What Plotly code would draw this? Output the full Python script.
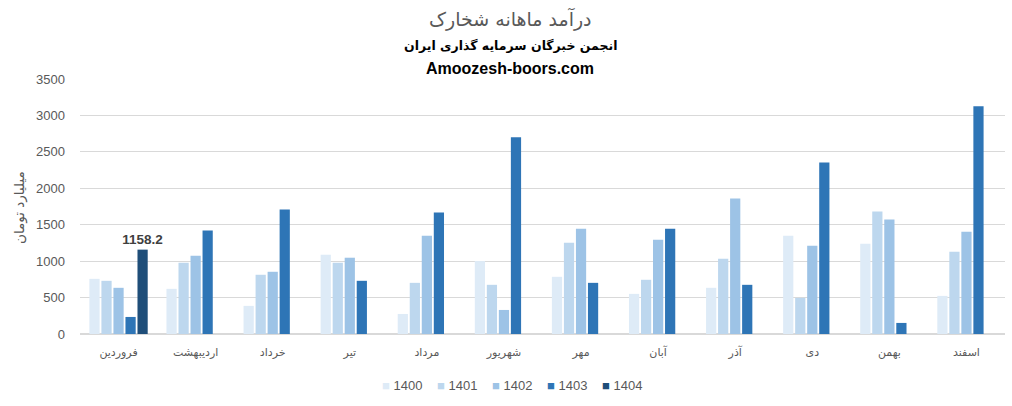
import plotly.graph_objects as go

months = ["فروردین", "اردیبهشت", "خرداد", "تیر", "مرداد", "شهریور",
          "مهر", "آبان", "آذر", "دی", "بهمن", "اسفند"]
years = ["1400", "1401", "1402", "1403", "1404"]
v1400 = [757, 620, 386, 1088, 275, 1001, 785, 551, 634, 1350, 1240, 523]
v1401 = [730, 978, 813, 978, 702, 675, 1253, 744, 1033, 496, 1681, 1129]
v1402 = [634, 1074, 854, 1047, 1350, 330, 1446, 1295, 1859, 1212, 1570, 1405]
v1403 = [234, 1419, 1708, 730, 1667, 2700, 702, 1446, 675, 2355, 152, 3127]
v1404 = [1158.2, None, None, None, None, None, None, None, None, None, None, None]
series = [v1400, v1401, v1402, v1403, v1404]
colors = ["#DEEBF7", "#BDD7EE", "#9DC3E6", "#2E75B6", "#1F4E79"]

W, H = 1012, 406
L, R, T, B = 80, 7, 79, 72
plot_w = W - L - R
plot_h = H - T - B

def px_x(x):
    return (x - L) / plot_w

def px_y(y):
    return (H - B - y) / plot_h

fig = go.Figure()
for name, vals, col in zip(years, series, colors):
    kw = {}
    if name == "1404":
        kw = dict(text=[("%.1f" % v) if v is not None else "" for v in vals],
                  textposition="outside", cliponaxis=False, constraintext="none",
                  textfont=dict(family="Liberation Sans", size=13.5, color="#404040"),
                  texttemplate="<b>%{text}</b>")
    fig.add_trace(go.Bar(name=name, x=months, y=vals, showlegend=False,
                         marker=dict(color=col, line=dict(width=0)), **kw))

fig.update_layout(
    width=W, height=H,
    margin=dict(l=L, r=R, t=T, b=B, autoexpand=False),
    paper_bgcolor="white", plot_bgcolor="white",
    barmode="group", bargap=0.22, bargroupgap=0.15,
    font=dict(family="Liberation Sans, DejaVu Sans", color="#595959", size=12),
    showlegend=False,
    xaxis=dict(showgrid=False, showline=True, linecolor="#D9D9D9", ticks="", automargin=False,
               ticklabelstandoff=8,
               tickfont=dict(family="DejaVu Sans", size=11, color="#595959")),
    yaxis=dict(range=[0, 3500], dtick=500, showgrid=True, gridcolor="#D9D9D9", automargin=False,
               zeroline=True, zerolinecolor="#D9D9D9", ticks="", ticklabelstandoff=14,
               tickfont=dict(size=13, color="#595959")),
)

# y-axis title
fig.add_annotation(text="میلیارد تومان", x=px_x(19), y=px_y(207), xref="paper", yref="paper",
                   xanchor="center", yanchor="middle", textangle=-90, showarrow=False,
                   font=dict(family="DejaVu Sans", size=13.5, color="#595959"))

cx = px_x(510)
fig.add_annotation(text="درآمد ماهانه شخارک", x=cx, y=px_y(19), xref="paper", yref="paper",
                   yanchor="middle", showarrow=False,
                   font=dict(family="DejaVu Sans", size=19, color="#595959"))
fig.add_annotation(text="<b>انجمن خبرگان سرمایه گذاری ایران</b>", x=cx, y=px_y(45),
                   xref="paper", yref="paper", yanchor="middle", showarrow=False,
                   font=dict(family="DejaVu Sans", size=12.5, color="#000000"))
fig.add_annotation(text="<b>Amoozesh-boors.com</b>", x=cx, y=px_y(69),
                   xref="paper", yref="paper", yanchor="middle", showarrow=False,
                   font=dict(family="Liberation Sans", size=16, color="#000000"))

# legend (built from the same years / colours)
for i, (name, col) in enumerate(zip(years, colors)):
    fig.add_annotation(
        text="<span style='color:%s'>■</span> %s" % (col, name),
        x=px_x(380 + 55 * i), y=px_y(385), xref="paper", yref="paper",
        xanchor="left", yanchor="middle", showarrow=False,
        font=dict(family="Liberation Sans", size=13, color="#595959"))

fig.write_html("out.html", config={"displayModeBar": False},
               post_script="document.body.style.margin='0';")
